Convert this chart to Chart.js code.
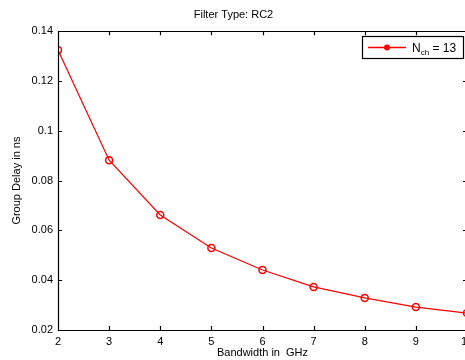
<!DOCTYPE html>
<html>
<head>
<meta charset="utf-8">
<script src="https://cdn.jsdelivr.net/npm/chart.js@4/dist/chart.umd.min.js"></script>
<style>
  html, body { margin: 0; padding: 0; background: #fff; width: 465px; height: 360px; overflow: hidden; }
  canvas { display: block; }
</style>
</head>
<body>
<canvas id="chart" width="480" height="360"></canvas>
<script>
// Data
const bandwidth = [2, 3, 4, 5, 6, 7, 8, 9, 10];
const groupDelay = [0.1324, 0.0882, 0.0662, 0.0529, 0.0441, 0.0373, 0.0329, 0.0292, 0.0268];
const xTickLabels = ['2', '3', '4', '5', '6', '7', '8', '9', '10'];
const yTickLabels = ['0.02', '0.04', '0.06', '0.08', '0.1', '0.12', '0.14'];

const titleText = 'Filter Type: RC2';
const legendMain = 'N';
const legendSub = 'ch';
const legendRest = ' = 13';

const FONT = 'Liberation Sans, Arial, sans-serif';
const RED = '#ff0000';

// MATLAB-ish box with inward ticks
const boxPlugin = {
    id: 'box',
    afterDatasetsDraw(chart) {
        const { ctx, chartArea: a, scales: { x, y } } = chart;
        ctx.save();
        ctx.strokeStyle = '#000';
        ctx.lineWidth = 1.2;
        ctx.beginPath();
        ctx.rect(Math.round(a.left) + 0.5, Math.round(a.top) + 0.5, Math.round(a.right - a.left), Math.round(a.bottom - a.top));
        x.ticks.forEach(t => {
            const px = Math.round(x.getPixelForValue(t.value)) + 0.5;
            ctx.moveTo(px, a.bottom); ctx.lineTo(px, a.bottom - 4);
            ctx.moveTo(px, a.top); ctx.lineTo(px, a.top + 4);
        });
        y.ticks.forEach(t => {
            const py = Math.round(y.getPixelForValue(t.value)) + 0.5;
            ctx.moveTo(a.left, py); ctx.lineTo(a.left + 4, py);
            ctx.moveTo(a.right, py); ctx.lineTo(a.right - 4, py);
        });
        ctx.stroke();
        ctx.restore();
    }
};

// legend with subscript
const legendPlugin = {
    id: 'subLegend',
    afterDraw(chart) {
        const ctx = chart.ctx;
        const bx = 362, by = 36, bw = 101, bh = 22;
        ctx.save();
        ctx.fillStyle = '#fff';
        ctx.fillRect(bx, by, bw, bh);
        ctx.strokeStyle = '#000';
        ctx.lineWidth = 1.2;
        ctx.strokeRect(bx + 0.5, by + 0.5, bw, bh);
        const cy = by + bh / 2 + 0.5;
        ctx.strokeStyle = RED;
        ctx.lineWidth = 1.5;
        ctx.beginPath();
        ctx.moveTo(bx + 6, cy); ctx.lineTo(bx + 44, cy);
        ctx.stroke();
        ctx.fillStyle = RED;
        ctx.beginPath();
        ctx.arc(bx + 25, cy, 3, 0, Math.PI * 2);
        ctx.fill();
        ctx.fillStyle = '#000';
        ctx.textBaseline = 'alphabetic';
        ctx.font = '12px ' + FONT;
        let tx = bx + 50;
        ctx.fillText(legendMain, tx, cy + 4);
        tx += ctx.measureText(legendMain).width;
        ctx.font = '8px ' + FONT;
        ctx.fillText(legendSub, tx, cy + 7);
        tx += ctx.measureText(legendSub).width;
        ctx.font = '12px ' + FONT;
        ctx.fillText(legendRest, tx, cy + 4);
        ctx.restore();
    }
};

new Chart(document.getElementById('chart'), {
    type: 'line',
    data: {
        datasets: [{
            label: 'Nch = 13',
            data: bandwidth.map((b, i) => ({ x: b, y: groupDelay[i] })),
            borderColor: RED,
            borderWidth: 1.2,
            tension: 0,
            pointStyle: 'circle',
            pointRadius: 3.5,
            pointBorderWidth: 1.5,
            pointBorderColor: RED,
            pointBackgroundColor: 'rgba(0,0,0,0)'
        }]
    },
    options: {
        responsive: false,
        animation: false,
        layout: { padding: { left: 0, right: 13, top: 0, bottom: 0 } },
        plugins: {
            legend: { display: false },
            tooltip: { enabled: false },
            title: {
                display: true,
                text: titleText,
                color: '#000',
                font: { family: FONT, size: 11, weight: 'normal' },
                padding: { top: 8, bottom: 10 }
            }
        },
        scales: {
            x: {
                type: 'linear',
                min: 2,
                max: 10,
                grid: { display: false, drawTicks: false },
                border: { display: false },
                afterFit: s => { s.height = 30; },
                afterBuildTicks: s => { s.ticks = bandwidth.map(v => ({ value: v })); },
                ticks: {
                    color: '#000',
                    padding: 5,
                    maxRotation: 0,
                    autoSkip: false,
                    font: { family: FONT, size: 11 },
                    callback: (v) => xTickLabels[bandwidth.indexOf(v)]
                },
                title: {
                    display: true,
                    text: 'Bandwidth in  GHz',
                    color: '#000',
                    font: { family: FONT, size: 11 },
                    padding: { top: 0, bottom: 0 }
                }
            },
            y: {
                min: 0.02,
                max: 0.14,
                grid: { display: false, drawTicks: false },
                border: { display: false },
                afterFit: s => { s.width = 58; },
                afterBuildTicks: s => { s.ticks = yTickLabels.map(l => ({ value: Number(l) })); },
                ticks: {
                    color: '#000',
                    padding: 5,
                    font: { family: FONT, size: 11 },
                    callback: (v) => yTickLabels.find(l => Math.abs(Number(l) - v) < 1e-9)
                },
                title: {
                    display: true,
                    text: 'Group Delay in ns',
                    color: '#000',
                    font: { family: FONT, size: 11 },
                    padding: { top: 10, bottom: 0 }
                }
            }
        }
    },
    plugins: [boxPlugin, legendPlugin]
});
</script>
</body>
</html>
